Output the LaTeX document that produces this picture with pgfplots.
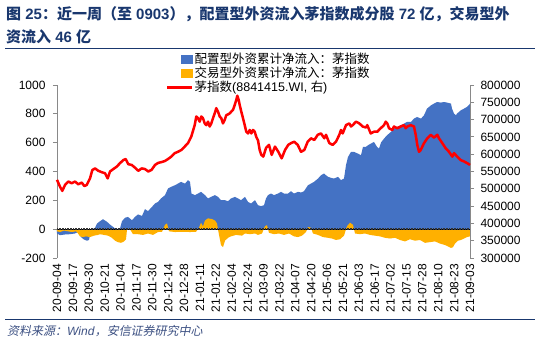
\documentclass[border=0pt]{standalone}
\usepackage{pgfplots}
\pgfplotsset{compat=1.18}
\usepackage{fontspec}
\setmainfont{Liberation Sans}
\newfontfamily\cjk{Noto Sans CJK SC}
\newfontfamily\cjkit{Noto Sans CJK SC}[FakeSlant=0.2]
\newcommand{\zh}[1]{{\cjk #1}}
\definecolor{myblue}{RGB}{68,114,196}
\definecolor{myorange}{RGB}{255,176,0}
\definecolor{myred}{RGB}{255,0,0}
\definecolor{axgray}{RGB}{137,137,137}
\definecolor{navy}{RGB}{25,55,110}
\definecolor{srcblue}{RGB}{60,80,130}
\begin{document}
\begin{tikzpicture}[x=1pt,y=1pt]
\useasboundingbox (0,0) rectangle (550,344);
% title
\node[anchor=west, inner sep=0pt, text=navy, font=\fontsize{15}{15}\selectfont\bfseries] at (6,330) {\zh{图} 25\zh{：近一周（至} 0903\zh{），配置型外资流入茅指数成分股} 72 \zh{亿，交易型外}};
\node[anchor=west, inner sep=0pt, text=navy, font=\fontsize{15}{15}\selectfont\bfseries] at (6,307) {\zh{资流入} 46 \zh{亿}};
\draw[navy, line width=0.7pt] (5,296) -- (535,296);
\draw[navy, line width=0.7pt] (5,25) -- (535,25);
\node[anchor=west, inner sep=0pt, text=srcblue, font=\fontsize{12}{12}\selectfont] at (7,13) {{\cjkit 资料来源：}\textit{Wind}{\cjkit ，安信证券研究中心}};
\begin{axis}[
  at={(57pt,86pt)}, anchor=south west, scale only axis,
  width=413pt, height=173pt,
  xmin=57, xmax=470, ymin=-200, ymax=1000,
  axis x line*=bottom, axis y line*=left,
  x axis line style={draw=none},
  y axis line style={axgray, line width=0.8pt},
  xtick={57,72.88,88.77,104.65,120.54,136.42,152.31,168.19,184.08,199.96,215.85,231.73,247.62,263.5,279.38,295.27,311.15,327.04,342.92,358.81,374.69,390.58,406.46,422.35,438.23,454.12,470},
  xticklabels={20-09-04,20-09-17,20-09-30,20-10-21,20-11-04,20-11-17,20-11-30,20-12-14,20-12-28,21-01-11,21-01-22,21-02-04,21-02-24,21-03-09,21-03-22,21-04-07,21-04-20,21-05-06,21-05-21,21-06-03,21-06-17,21-07-02,21-07-15,21-07-28,21-08-10,21-08-23,21-09-03},
  xtick style={draw=none},
  xticklabel style={rotate=90, anchor=east, font=\fontsize{12}{12}\selectfont, inner sep=2pt},
  ytick={-200,0,200,400,600,800,1000},
  ytick style={axgray, line width=0.8pt},
  tick align=outside, major tick length=4pt,
  yticklabel style={font=\fontsize{12}{12}\selectfont, xshift=-4pt, /pgf/number format/fixed, /pgf/number format/1000 sep={}},
  /pgf/number format/assume math mode=true,
  clip=false,
]
\addplot[fill=myblue, draw=none] coordinates {
(57,-30) (60,-42) (65,-37) (70,-35) (75,-30) (78,-20) (81,-55) (84,-72) (87,-80) (89,-75) (91,-5) (95,9) (97,39) (100,55) (103,69) (107,51) (110,32) (113,16) (116,0) (120,5) (122,55) (125,79) (128,85) (132,62) (135,85) (138,102) (142,92) (145,139) (148,125) (152,155) (155,178) (158,189) (161,213) (165,236) (168,282) (171,293) (175,305) (178,316) (181,328) (185,316) (188,340) (190,328) (191.5,247) (195,236) (198,247) (201,259) (205,236) (208,213) (211,224) (215,236) (218,224) (221,201) (225,201) (228,194) (231,213) (235,224) (238,213) (241,201) (245,224) (248,189) (251,178) (255,201) (258,166) (261,160) (264,166) (266,213) (268,236) (271,247) (274,236) (278,247) (281,259) (284,247) (288,247) (291,263) (294,247) (298,259) (301,254) (304,263) (308,305) (311,316) (314,328) (318,351) (321,374) (324,386) (326,374) (328,363) (331,356) (334,351) (338,363) (341,340) (344,351) (346,444) (348,501) (351,536) (354,536) (358,524) (361,513) (363,571) (366,571) (368,582) (371,594) (374,605) (377,571) (379,559) (381,601) (384,628) (387,651) (391,675) (394,698) (397,709) (401,721) (404,732) (407,744) (411,744) (414,767) (417,778) (421,767) (424,790) (427,836) (431,859) (434,871) (437,882) (441,878) (444,882) (447,878) (451,871) (452,836) (454,802) (456,790) (457,802) (461,825) (464,836) (467,848) (470,870)
} \closedcycle;
\addplot[fill=myorange, draw=none] coordinates {
(57,-15) (60,-20) (64,-10) (68,-15) (72,-20) (76,-15) (78,-30) (80,-50) (83,-55) (86,-50) (90,-55) (94,-45) (98,-40) (100,-35) (104,-40) (108,-45) (112,-60) (115,-80) (118,-90) (121,-95) (124,-85) (126,-70) (127,-5) (130,0) (133,-35) (138,-35) (143,-40) (148,-30) (153,-40) (158,-20) (162,-18) (165,30) (167,40) (169,-15) (175,-20) (182,-18) (190,-20) (196,-18) (199,10) (201,45) (203,20) (205,60) (208,75) (212,70) (215,60) (217,40) (219,-40) (221,-110) (223,-125) (225,-80) (228,-60) (231,-50) (236,-40) (242,-45) (245,-30) (250,-35) (255,-30) (258,-40) (262,-30) (265,20) (267,28) (269,-25) (274,-35) (279,-30) (284,-40) (289,-30) (294,-50) (298,-55) (302,-45) (306,-20) (308,15) (311,10) (313,-30) (318,-40) (323,-55) (328,-60) (332,-65) (336,-75) (340,-70) (344,-45) (347,20) (350,45) (353,30) (355,-30) (360,-35) (365,-30) (370,-40) (375,-45) (380,-50) (385,-60) (390,-65) (395,-60) (400,-75) (405,-85) (410,-70) (415,-80) (420,-75) (425,-95) (430,-90) (435,-85) (440,-100) (445,-110) (448,-120) (451,-130) (453,-125) (455,-100) (458,-80) (461,-75) (464,-65) (467,-55) (470,-50)
} \closedcycle;
\addplot[black, line width=0.6pt, forget plot] coordinates {(57,0) (470,0)};
\addplot[black!80, line width=2.6pt, dash pattern=on 0.8pt off 0.8pt, forget plot] coordinates {(57,0) (470,0)};
\end{axis}
\begin{axis}[
  at={(57pt,86pt)}, anchor=south west, scale only axis,
  width=413pt, height=173pt,
  xmin=57, xmax=470, ymin=300000, ymax=800000,
  axis x line=none, axis y line*=right,
  y axis line style={axgray, line width=0.8pt},
  ytick={300000,350000,400000,450000,500000,550000,600000,650000,700000,750000,800000},
  ytick style={axgray, line width=0.8pt},
  tick align=outside, major tick length=4pt,
  scaled y ticks=false,
  yticklabel style={font=\fontsize{12}{12}\selectfont, xshift=3pt, /pgf/number format/fixed, /pgf/number format/1000 sep={}},
  /pgf/number format/assume math mode=true,
  clip=false,
  legend style={draw=none, fill=none, at={(axis description cs:0.264,1.191)}, anchor=north west,
    font=\fontsize{12.5}{12.5}\selectfont, row sep=0pt, inner sep=0pt,
    nodes={inner sep=1pt}},
  legend cell align=left,
]
\addlegendimage{legend image code/.code={\fill[myblue] (14pt,-4pt) rectangle (25pt,4pt);}}
\addlegendentry{\zh{配置型外资累计净流入：茅指数}}
\addlegendimage{legend image code/.code={\fill[myorange] (14pt,-4pt) rectangle (25pt,4pt);}}
\addlegendentry{\zh{交易型外资累计净流入：茅指数}}
\addplot[myred, line width=2.5pt, line join=round, legend image code/.code={\draw[myred, line width=2.5pt] (0pt,0pt) -- (25pt,0pt);}] coordinates {
(57,526000) (60,506000) (62.3,494000) (65,511000) (68.3,521000) (71.7,516000) (75,521000) (78.3,513000) (81.7,518000) (84.3,508000) (86.7,511000) (90,530000) (92.3,554000) (95,559000) (98.3,552000) (101.7,548000) (105,545000) (107.7,530000) (110,550000) (113.3,557000) (116.7,564000) (120,574000) (123.3,583000) (125.7,586000) (128.3,571000) (131.7,569000) (135,561000) (138.3,552000) (141.7,559000) (145,557000) (148.3,550000) (151.7,555000) (155,569000) (158.3,575000) (161.3,577000) (164.7,580000) (168,586000) (171.3,593000) (174.7,603000) (178,607000) (181.3,612000) (184.7,622000) (188,632000) (191.3,651000) (194.7,684000) (196.3,709000) (198,704000) (199.7,694000) (201.3,709000) (203,704000) (204.7,689000) (206.3,684000) (208,694000) (209.7,680000) (211.3,689000) (213,704000) (214.7,718000) (216.3,733000) (218,723000) (219.7,709000) (221.3,704000) (223,689000) (224.7,699000) (226.3,713000) (228,715000) (229.7,718000) (231.3,723000) (233,728000) (234.7,742000) (236.3,757000) (237.3,769000) (238.7,757000) (239.7,742000) (241.3,723000) (243,704000) (244.7,684000) (246.3,665000) (248,660000) (249.7,670000) (251.3,660000) (253,670000) (254.7,665000) (256.3,650000) (258,640000) (259.7,612000) (261.3,598000) (263.3,593000) (266,618000) (269,627000) (271.7,598000) (275,622000) (278.3,607000) (281.7,588000) (285,612000) (288.3,627000) (291,632000) (294.3,636000) (297.7,627000) (301,607000) (304.3,612000) (307.7,636000) (311,646000) (314.3,641000) (317.7,656000) (321,660000) (324.3,646000) (326,656000) (329.3,632000) (332.7,627000) (336,636000) (339.3,656000) (341,670000) (342.7,660000) (346,684000) (349.3,689000) (351,680000) (352.7,684000) (356,694000) (359.3,689000) (362.7,680000) (366,677000) (367.3,684000) (370.7,660000) (374,665000) (377.3,665000) (380.7,675000) (384,684000) (385.7,694000) (387.3,689000) (389,675000) (392.3,670000) (394,680000) (397.3,675000) (400.7,680000) (404,684000) (405.7,675000) (407.3,680000) (410.7,684000) (414,680000) (415.7,656000) (417.3,627000) (419,607000) (420.7,612000) (424,632000) (427.3,646000) (430.7,656000) (434,648000) (437.3,656000) (439,646000) (442.3,632000) (445.7,617000) (449,607000) (452.3,593000) (454,603000) (457.3,593000) (460.7,583000) (464,579000) (467.3,574000) (470,569000)
};
\addlegendentry{\zh{茅指数}(8841415.WI, \zh{右})}
\end{axis}
\end{tikzpicture}
\end{document}
